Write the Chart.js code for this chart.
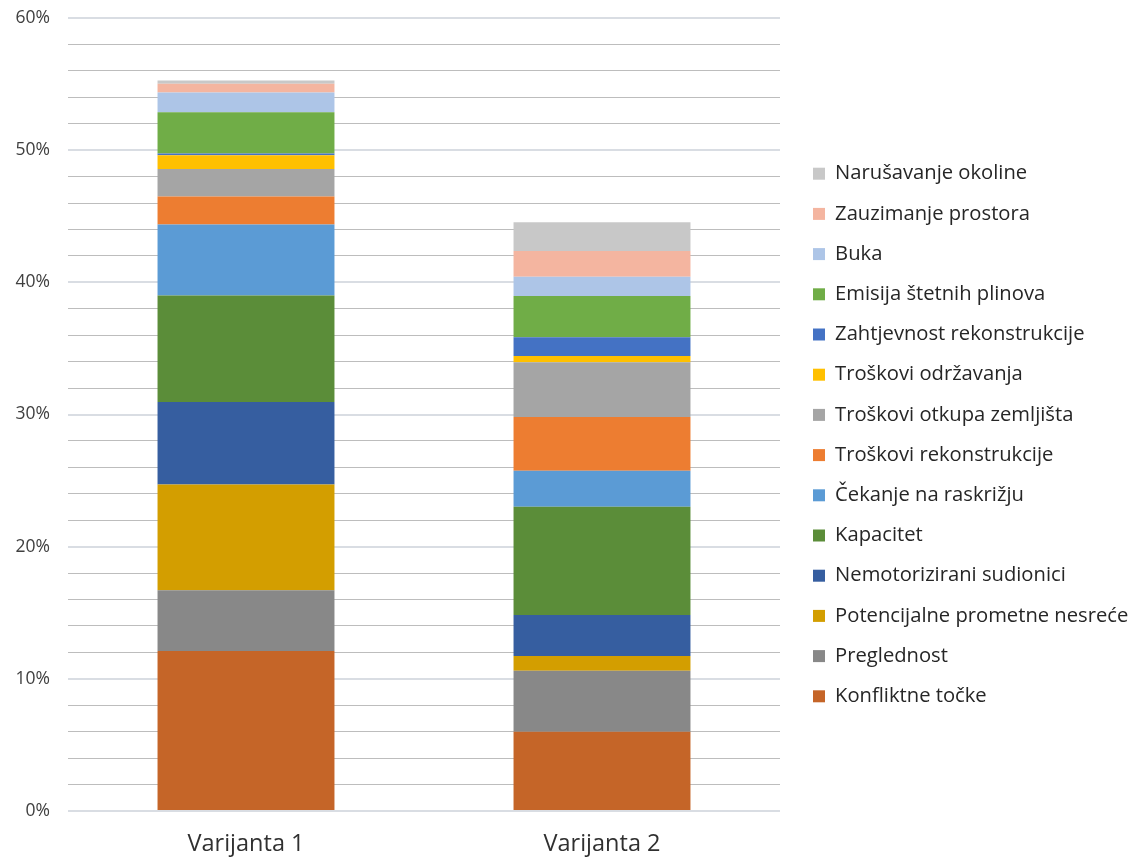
<!DOCTYPE html>
<html><head><meta charset="utf-8">
<script src="https://cdn.jsdelivr.net/npm/chart.js@4/dist/chart.umd.min.js"></script>
<style>html,body{margin:0;padding:0;background:#fff;}#wrap{width:1143px;height:857px;position:relative;}</style>
</head><body><div id="wrap"><canvas id="c" width="1143" height="857"></canvas></div>
<script>
const categories = ['Varijanta 1', 'Varijanta 2'];
const seriesNames = [
  'Konfliktne točke', 'Preglednost', 'Potencijalne prometne nesreće', 'Nemotorizirani sudionici',
  'Kapacitet', 'Čekanje na raskrižju', 'Troškovi rekonstrukcije', 'Troškovi otkupa zemljišta',
  'Troškovi održavanja', 'Zahtjevnost rekonstrukcije', 'Emisija štetnih plinova', 'Buka',
  'Zauzimanje prostora', 'Narušavanje okoline'
];
const variant1 = [12.1, 4.6, 8.0, 6.25, 8.05, 5.37, 2.12, 2.09, 1.04, 0.12, 3.13, 1.49, 0.66, 0.25];
const variant2 = [6.0, 4.62, 1.11, 3.10, 8.19, 2.73, 4.06, 4.14, 0.48, 1.41, 3.12, 1.47, 1.94, 2.17];
const seriesColors = [
  '#C56528', '#888888', '#D39E00', '#365EA0', '#5B8D39', '#5B9BD5', '#ED7D31', '#A5A5A5',
  '#FFC000', '#4472C4', '#70AD47', '#ADC5E7', '#F4B5A0', '#C8C8C8'
];
const yMajorTicks = [0, 10, 20, 30, 40, 50, 60];

const datasets = seriesNames.map((name, i) => ({
  label: name,
  data: [variant1[i], variant2[i]],
  backgroundColor: seriesColors[i],
  borderWidth: 0,
  barPercentage: 0.497,
  categoryPercentage: 1
}));

const LEGEND_AREA = 363;
const legendPlacer = {
  id: 'legendPlacer',
  beforeLayout(chart) {
    const lg = chart.legend;
    if (lg && !lg._fixedFit) {
      const origFit = lg.fit.bind(lg);
      lg.fit = function () { origFit(); this.width = LEGEND_AREA; };
      lg._fixedFit = true;
    }
  },
  afterLayout(chart) {
    const lg = chart.legend;
    if (!lg) return;
    lg.left = chart.chartArea.right + 13;
    lg.right = lg.left + lg.width;
    lg.top = 0;
    lg.bottom = 870;
    lg.height = 870;
  }
};

const isMajor = v => yMajorTicks.some(t => Math.abs(t - v) < 1e-6);

new Chart(document.getElementById('c'), {
  type: 'bar',
  data: { labels: categories, datasets },
  plugins: [legendPlacer],
  options: {
    responsive: false,
    animation: false,
    layout: { padding: { top: 18, bottom: 0, left: 0, right: 0 } },
    plugins: {
      tooltip: { enabled: false },
      legend: {
        position: 'right',
        reverse: true,
        labels: {
          boxWidth: 12, boxHeight: 12, padding: 20,
          color: '#262626',
          font: { family: 'Open Sans', size: 20.2, lineHeight: 1 }
        }
      }
    },
    scales: {
      x: {
        stacked: true,
        afterFit(scale) { scale.height = 46; },
        grid: { display: false, drawTicks: false },
        border: { display: false },
        ticks: { padding: 19.5, color: '#303030', font: { family: 'Open Sans', size: 23.5 } }
      },
      y: {
        stacked: true,
        min: 0, max: 60,
        afterFit(scale) { scale.width = 68; scale.paddingTop = 0; scale.paddingBottom = 0; },
        border: { display: false },
        grid: {
          drawTicks: false,
          color: ctx => (ctx.tick && isMajor(ctx.tick.value)) ? '#d9dde3' : '#bdbdbd',
          lineWidth: ctx => (ctx.tick && isMajor(ctx.tick.value)) ? 2 : 1
        },
        ticks: {
          stepSize: 2, autoSkip: false, padding: 18,
          color: '#404040',
          font: { family: 'Open Sans', size: 17.5 },
          callback: v => isMajor(v) ? v + '%' : ''
        }
      }
    }
  }
});
</script></body></html>
